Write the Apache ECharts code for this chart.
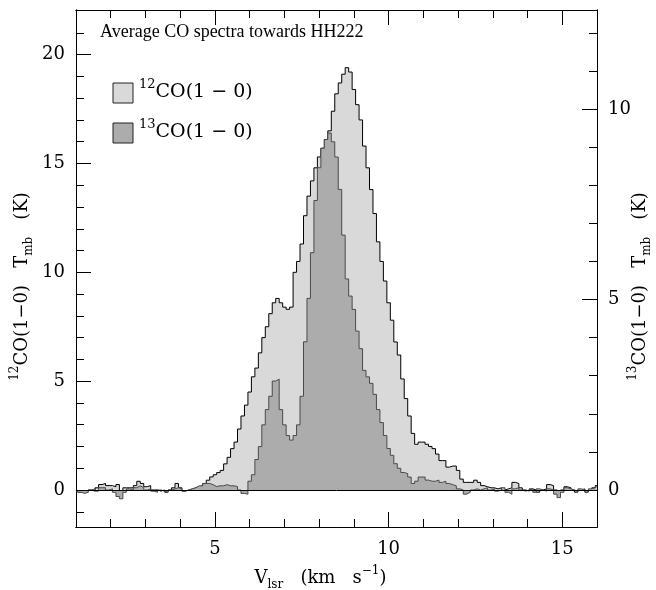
<!DOCTYPE html>
<html>
<head>
<meta charset="utf-8">
<script src="https://cdn.jsdelivr.net/npm/echarts@6/dist/echarts.min.js"></script>
<style>html,body{margin:0;padding:0;background:#fff;}#c{width:656px;height:590px;}</style>
</head>
<body>
<div id="c"></div>
<script>
// Velocity channels (km/s)
var velocity = [
  1.0,1.1,1.2,1.3,1.4,1.5,1.6,1.7,1.8,1.9,
  2.0,2.1,2.2,2.3,2.4,2.5,2.6,2.7,2.8,2.9,
  3.0,3.1,3.2,3.3,3.4,3.5,3.6,3.7,3.8,3.9,
  4.0,4.1,4.2,4.3,4.4,4.5,4.6,4.7,4.8,4.9,
  5.0,5.1,5.2,5.3,5.4,5.5,5.6,5.7,5.8,5.9,
  6.0,6.1,6.2,6.3,6.4,6.5,6.6,6.7,6.8,6.9,
  7.0,7.1,7.2,7.3,7.4,7.5,7.6,7.7,7.8,7.9,
  8.0,8.1,8.2,8.3,8.4,8.5,8.6,8.7,8.8,8.9,
  9.0,9.1,9.2,9.3,9.4,9.5,9.6,9.7,9.8,9.9,
  10.0,10.1,10.2,10.3,10.4,10.5,10.6,10.7,10.8,10.9,
  11.0,11.1,11.2,11.3,11.4,11.5,11.6,11.7,11.8,11.9,
  12.0,12.1,12.2,12.3,12.4,12.5,12.6,12.7,12.8,12.9,
  13.0,13.1,13.2,13.3,13.4,13.5,13.6,13.7,13.8,13.9,
  14.0,14.1,14.2,14.3,14.4,14.5,14.6,14.7,14.8,14.9,
  15.0,15.1,15.2,15.3,15.4,15.5,15.6,15.7,15.8,15.9,
  16.0
];
// 12CO(1-0) Tmb (K)
var co12 = [
  0.0,-0.1,-0.05,-0.1,0.0,-0.05,0.1,0.25,0.3,0.2,
  0.2,0.15,0.25,-0.1,0.1,0.1,0.1,0.2,0.4,0.3,
  0.15,0.2,0.0,0.0,-0.05,0.0,-0.1,0.0,0.1,0.3,
  0.1,-0.05,0.0,0.05,0.1,0.15,0.2,0.3,0.45,0.6,
  0.7,0.8,0.9,1.2,1.5,1.9,2.2,2.8,3.4,3.9,
  4.5,5.2,5.6,6.3,7.0,7.5,8.1,8.6,8.8,8.6,
  8.4,8.3,8.4,10.0,10.5,11.3,12.6,13.5,14.2,14.8,
  15.3,15.7,16.1,16.5,17.4,18.2,18.7,19.1,19.4,19.2,
  18.4,17.7,17.0,15.8,14.8,13.8,12.7,11.4,10.5,9.6,
  8.6,7.8,6.8,6.2,5.1,4.2,3.4,2.6,2.1,2.2,
  2.2,2.1,2.0,1.9,1.65,1.35,1.35,1.05,1.1,1.1,
  0.9,0.5,0.35,0.35,0.35,0.45,0.35,0.2,0.15,0.1,
  0.1,0.05,0.1,0.0,0.05,0.1,0.35,0.3,0.1,0.0,
  -0.05,0.05,0.0,-0.1,0.0,0.05,0.25,0.2,0.0,-0.1,
  0.0,0.15,0.1,0.0,-0.1,0.0,0.05,-0.1,0.0,0.1,
  0.2
];
// 13CO(1-0) Tmb (K)
var co13 = [
  0,-0.06,-0.09,-0.06,0,0.03,-0.03,0.06,0.06,0,
  0.03,-0.06,-0.17,-0.23,-0.06,0.03,0,0.06,0.11,0.06,
  0,0.03,-0.03,-0.06,0,-0.03,-0.06,0,0.03,0.06,
  0.03,-0.03,0,0.03,0.06,0.11,0.11,0.17,0.17,0.14,
  0.09,0.11,0.11,0.14,0.11,0.11,0.09,0,-0.09,-0.11,
  0.23,0.40,0.80,1.14,1.71,2.11,2.46,2.86,2.91,2.11,
  1.71,1.43,1.31,1.43,1.71,2.46,3.89,5.03,6.23,7.60,
  8.46,8.97,9.20,9.37,9.14,8.74,7.89,6.69,5.54,5.09,
  4.74,4.17,3.71,3.14,2.97,2.80,2.51,2.11,1.77,1.43,
  1.09,0.91,0.69,0.57,0.46,0.43,0.34,0.17,0.23,0.34,
  0.34,0.26,0.23,0.23,0.26,0.20,0.23,0.17,0.14,0.11,
  0.03,0,-0.11,-0.06,0,0.03,0,0.03,0.06,0,
  0.03,-0.03,0,0.06,-0.06,-0.11,0.03,0.06,0,-0.03,
  0,0.03,-0.06,0.03,0,-0.03,0.03,0,-0.11,-0.2,
  -0.06,0.06,0.03,0,-0.03,0.03,0,-0.03,0.03,0.06,
  0.09
];
// Ticks
var xMajorTicks = [5, 10, 15];
var xMinorTicks = [2, 3, 4, 6, 7, 8, 9, 11, 12, 13, 14];
var yLeftMajorTicks = [0, 5, 10, 15, 20];
var yLeftMinorTicks = [-1, 1, 2, 3, 4, 6, 7, 8, 9, 11, 12, 13, 14, 16, 17, 18, 19, 21];
var yRightMajorTicks = [0, 5, 10];
var yRightMinorTicks = [1, 2, 3, 4, 6, 7, 8, 9, 11, 12];
var seriesNames = ['12CO(1-0)', '13CO(1-0)'];
var titleText = 'Average CO spectra towards HH222';

var FONT = 'DejaVu Serif';
var scaleRatio = 1.75;
var leftMin = -1.7, leftMax = 22.05;

var d12 = velocity.map(function (v, i) { return [v, co12[i]]; });
var d13 = velocity.map(function (v, i) { return [v, co13[i]]; });

var richStyles = {
  n: { fontFamily: FONT, fontSize: 18, color: '#000', lineHeight: 26, verticalAlign: 'middle' },
  sup: { fontFamily: FONT, fontSize: 12, color: '#000', lineHeight: 26, verticalAlign: 'top' },
  sub: { fontFamily: FONT, fontSize: 12, color: '#000', lineHeight: 26, verticalAlign: 'bottom' }
};
var legendRich = {
  n: { fontFamily: FONT, fontSize: 19, color: '#000', lineHeight: 28, verticalAlign: 'middle' },
  sup: { fontFamily: FONT, fontSize: 13, color: '#000', lineHeight: 28, verticalAlign: 'top' }
};

function baseX(extra) {
  var o = {
    type: 'value', min: 1, max: 16, gridIndex: 0,
    axisLine: { show: true, onZero: false, lineStyle: { color: '#000', width: 1 } },
    splitLine: { show: false },
    axisLabel: { show: false },
    axisTick: { show: true, inside: true, lineStyle: { color: '#000', width: 1 } }
  };
  for (var k in extra) o[k] = extra[k];
  return o;
}
function baseY(extra) {
  var o = {
    type: 'value', gridIndex: 0,
    axisLine: { show: true, onZero: false, lineStyle: { color: '#000', width: 1 } },
    splitLine: { show: false },
    axisLabel: { show: false },
    axisTick: { show: true, inside: true, lineStyle: { color: '#000', width: 1 } }
  };
  for (var k in extra) o[k] = extra[k];
  return o;
}

var chart = echarts.init(document.getElementById('c'), null, { renderer: 'canvas' });
var option = {
  animation: false,
  backgroundColor: '#fff',
  grid: { left: 76, right: 59, top: 10, bottom: 63, containLabel: false, outerBoundsMode: 'none' },
  xAxis: [
    baseX({
      position: 'bottom',
      axisTick: { show: true, inside: true, length: 15, customValues: xMajorTicks, lineStyle: { color: '#000' } },
      axisLabel: { show: true, customValues: xMajorTicks, margin: 13, fontFamily: FONT, fontSize: 18, color: '#000' },
      name: '{n|V}{sub|lsr}{n|   (km   s}{sup|−1}{n|)}',
      nameLocation: 'middle', nameGap: 38, nameMoveOverlap: false,
      nameTextStyle: { rich: richStyles, padding: [0, 32, 0, 0] }
    }),
    baseX({ position: 'bottom', axisTick: { show: true, inside: true, length: 8, customValues: xMinorTicks, lineStyle: { color: '#000' } } }),
    baseX({ position: 'top', axisTick: { show: true, inside: true, length: 15, customValues: xMajorTicks, lineStyle: { color: '#000' } } }),
    baseX({ position: 'top', axisTick: { show: true, inside: true, length: 8, customValues: xMinorTicks, lineStyle: { color: '#000' } } })
  ],
  yAxis: [
    baseY({
      position: 'left', min: leftMin, max: leftMax,
      axisTick: { show: true, inside: true, length: 15, customValues: yLeftMajorTicks, lineStyle: { color: '#000' } },
      axisLabel: { show: true, customValues: yLeftMajorTicks, margin: 11, fontFamily: FONT, fontSize: 18, color: '#000' },
      name: '{sup|12}{n|CO(1−0)   T}{sub|mb}{n|   (K)}',
      nameLocation: 'middle', nameGap: 41, nameRotate: 90, nameMoveOverlap: false,
      nameTextStyle: { rich: richStyles, padding: [0, 36, 0, 0] }
    }),
    baseY({
      position: 'right', min: leftMin / scaleRatio, max: leftMax / scaleRatio,
      axisTick: { show: true, inside: true, length: 15, customValues: yRightMajorTicks, lineStyle: { color: '#000' } },
      axisLabel: { show: true, customValues: yRightMajorTicks, margin: 11, fontFamily: FONT, fontSize: 18, color: '#000' },
      name: '{sup|13}{n|CO(1−0)   T}{sub|mb}{n|   (K)}',
      nameLocation: 'middle', nameGap: 30, nameRotate: 90, nameMoveOverlap: false,
      nameTextStyle: { rich: richStyles, padding: [0, 36, 0, 0] }
    }),
    baseY({ position: 'left', min: leftMin, max: leftMax,
      axisTick: { show: true, inside: true, length: 8, customValues: yLeftMinorTicks, lineStyle: { color: '#000' } } }),
    baseY({ position: 'right', min: leftMin / scaleRatio, max: leftMax / scaleRatio,
      axisTick: { show: true, inside: true, length: 8, customValues: yRightMinorTicks, lineStyle: { color: '#000' } } })
  ],
  series: [
    {
      name: seriesNames[0], type: 'line', step: 'middle', xAxisIndex: 0, yAxisIndex: 0,
      data: d12, symbol: 'none', clip: true,
      lineStyle: { color: '#000', width: 1 },
      areaStyle: { color: '#d9d9d9', opacity: 1, origin: 0 },
      z: 2
    },
    {
      name: seriesNames[1], type: 'line', step: 'middle', xAxisIndex: 0, yAxisIndex: 1,
      data: d13, symbol: 'none', clip: true,
      lineStyle: { color: '#4a4a4a', width: 1 },
      areaStyle: { color: '#acacac', opacity: 1, origin: 0 },
      markLine: {
        silent: true, symbol: ['none', 'none'], label: { show: false },
        lineStyle: { color: '#000', type: 'solid', width: 1 },
        data: [{ yAxis: 0 }]
      },
      z: 3
    }
  ],
  graphic: [
    { type: 'text', left: 100, top: 23, style: { text: titleText, fontFamily: 'Liberation Serif', fontSize: 18, fill: '#000' } },
    { type: 'rect', shape: { x: 113, y: 83, width: 20, height: 20 }, style: { fill: '#d9d9d9', stroke: '#222', lineWidth: 1 } },
    { type: 'rect', shape: { x: 113, y: 123, width: 20, height: 20 }, style: { fill: '#acacac', stroke: '#222', lineWidth: 1 } },
    { type: 'text', left: 139, top: 78, style: { text: '{sup|12}{n|CO(1 − 0)}', rich: legendRich } },
    { type: 'text', left: 139, top: 118, style: { text: '{sup|13}{n|CO(1 − 0)}', rich: legendRich } }
  ]
};
chart.setOption(option);
</script>
</body>
</html>
